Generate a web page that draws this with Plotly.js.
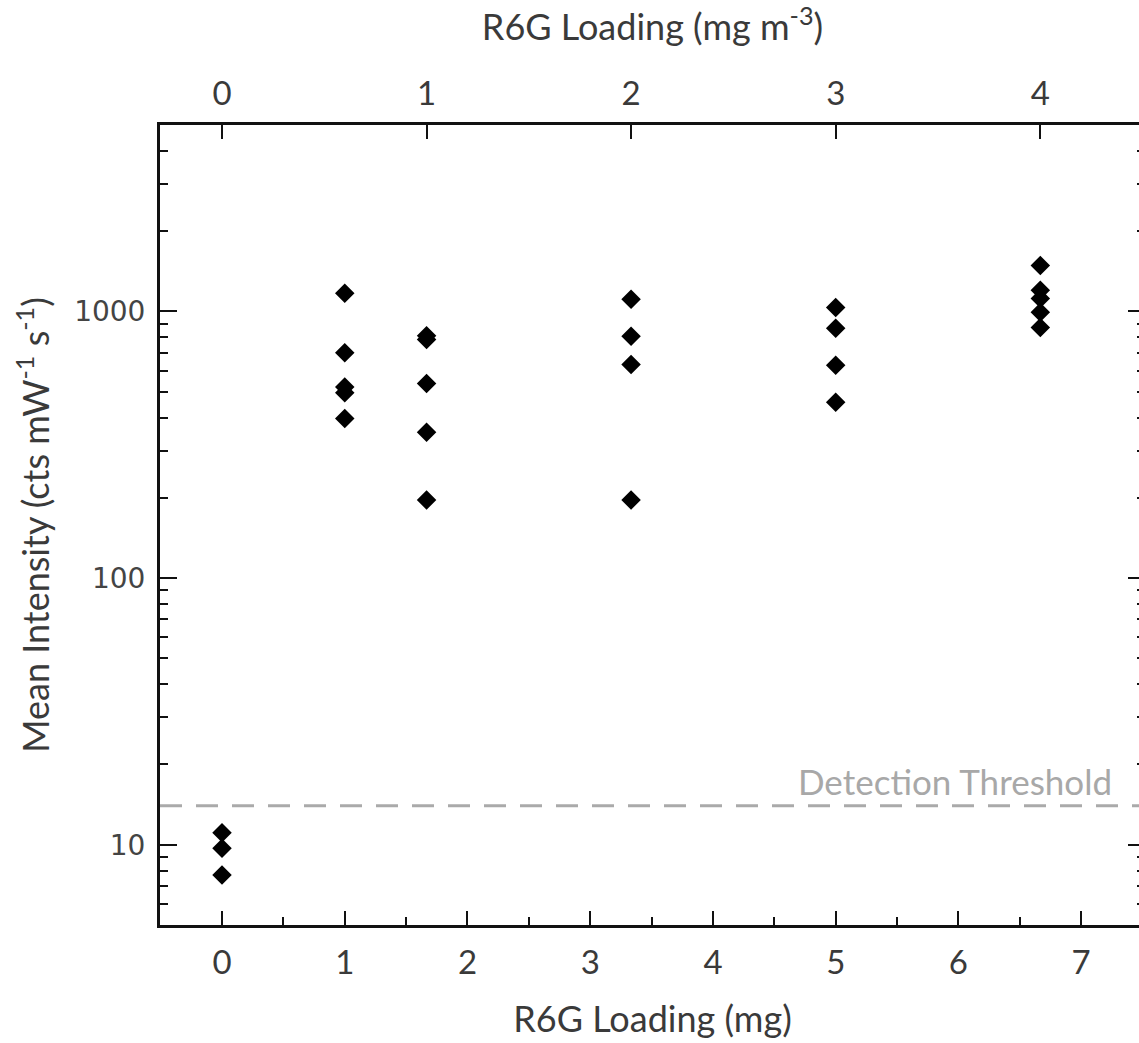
<!DOCTYPE html>
<html>
<head>
<meta charset="utf-8">
<script src="https://cdn.plot.ly/plotly-3.0.1.min.js"></script>
<style>
  html, body { margin: 0; padding: 0; background: #ffffff; overflow: hidden; }
  #chart { width: 1145px; height: 1043px; }
</style>
</head>
<body>
<div id="chart"></div>
<script>
// R6G loading (mg) for each group of replicate measurements
const loadingMg = [0, 1, 1.667, 3.333, 5, 6.667];
// Mean intensity (cts mW^-1 s^-1) replicates per loading
const intensity0 = [11.1, 9.7, 7.7];
const intensity1 = [1170, 700, 520, 495, 397];
const intensity2 = [810, 785, 537, 352, 196];
const intensity3 = [1110, 806, 632, 196];
const intensity5 = [1035, 864, 628, 456];
const intensity7 = [1486, 1199, 1118, 992, 871];
const intensityGroups = [intensity0, intensity1, intensity2, intensity3, intensity5, intensity7];

// Detection threshold (cts mW^-1 s^-1)
const detectionThreshold = 14;
const thresholdLabel = "Detection Threshold";

// Axes
const bottomTicks = [0, 1, 2, 3, 4, 5, 6, 7];
const topTicks = [0, 1, 2, 3, 4];
const mgPerTopUnit = 5 / 3; // bottom (mg) per top (mg m^-3) unit
const yTicks = [10, 100, 1000];
const yTickText = ["10", "100", "1000"];
const xRange = [-0.505, 7.52];
const yRange = [5, 5000];

const xs = [], ys = [];
intensityGroups.forEach((g, i) => g.forEach(v => { xs.push(loadingMg[i]); ys.push(v); }));

const traces = [
  {
    type: "scatter", mode: "markers", x: xs, y: ys,
    marker: { symbol: "diamond", size: 15, color: "#000000", line: { width: 0 } },
    showlegend: false, hoverinfo: "x+y"
  },
  {
    type: "scatter", mode: "markers", x: topTicks, y: topTicks.map(() => null),
    xaxis: "x2", yaxis: "y", showlegend: false, hoverinfo: "skip",
    marker: { opacity: 0 }
  }
];

const tickFont = { family: "Lato, 'Open Sans', sans-serif", size: 33, color: "#3a3a3a" };
const titleFont = { family: "Lato, 'Open Sans', sans-serif", size: 36, color: "#3a3a3a" };

const layout = {
  width: 1145, height: 1043,
  margin: { l: 160, r: 0, t: 125, b: 118 },
  paper_bgcolor: "#ffffff", plot_bgcolor: "#ffffff",
  showlegend: false,
  xaxis: {
    range: xRange, tickmode: "array", tickvals: bottomTicks,
    ticks: "inside", ticklen: 14, tickwidth: 2, tickcolor: "#111",
    minor: { dtick: 0.5, tick0: 0, ticks: "inside", ticklen: 8, tickwidth: 2, tickcolor: "#111", showgrid: false },
    showline: true, linewidth: 3, linecolor: "#111", mirror: false,
    showgrid: false, zeroline: false,
    tickfont: tickFont, ticklabelstandoff: 6,
    title: { text: "R6G Loading (mg)", font: titleFont, standoff: 28 }
  },
  xaxis2: {
    overlaying: "x", side: "top", anchor: "y",
    range: [xRange[0] / mgPerTopUnit, xRange[1] / mgPerTopUnit],
    tickmode: "array", tickvals: topTicks,
    ticks: "inside", ticklen: 14, tickwidth: 2, tickcolor: "#111",
    showline: true, linewidth: 3, linecolor: "#111",
    showgrid: false, zeroline: false,
    tickfont: tickFont, ticklabelstandoff: 4,
    title: { text: "R6G Loading (mg m<sup>-3</sup>)", font: titleFont, standoff: 34 }
  },
  yaxis: {
    type: "log", range: [Math.log10(yRange[0]), Math.log10(yRange[1])],
    tickmode: "array", tickvals: yTicks, ticktext: yTickText,
    ticks: "inside", ticklen: 17, tickwidth: 2, tickcolor: "#111",
    minor: { dtick: "D1", ticks: "inside", ticklen: 8, tickwidth: 2, tickcolor: "#111", showgrid: false },
    showline: true, linewidth: 3, linecolor: "#111", mirror: "ticks",
    showgrid: false, zeroline: false,
    tickfont: { family: "'DejaVu Sans', sans-serif", size: 28, color: "#444444" },
    ticklabelstandoff: 6,
    title: { text: "Mean Intensity (cts mW<sup>-1</sup> s<sup>-1</sup>)", font: titleFont, standoff: 14 }
  },
  shapes: [
    {
      type: "line", xref: "paper", x0: 0, x1: 1, yref: "y",
      y0: detectionThreshold, y1: detectionThreshold,
      line: { color: "#aaaaaa", width: 3, dash: "22px,14px" }, layer: "below"
    }
  ],
  annotations: [
    {
      xref: "paper", x: 0.969, xanchor: "right",
      yref: "y", y: Math.log10(detectionThreshold), yanchor: "bottom", yshift: 2,
      text: thresholdLabel, showarrow: false,
      font: { family: "Lato, 'Open Sans', sans-serif", size: 35, color: "#a8a8a8" }
    }
  ]
};

Plotly.newPlot("chart", traces, layout, { staticPlot: true, displayModeBar: false });
</script>
</body>
</html>
